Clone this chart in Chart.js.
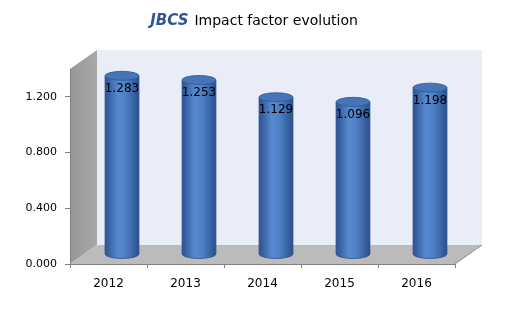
<!DOCTYPE html>
<html>
<head>
<meta charset="utf-8">
<script src="https://cdn.jsdelivr.net/npm/chart.js@4.4.1/dist/chart.umd.min.js"></script>
<style>
    html, body { margin: 0; padding: 0; background: #fff; }
</style>
</head>
<body>
<canvas id="impactChart" width="511" height="311"></canvas>
<script>
const years = ['2012', '2013', '2014', '2015', '2016'];
const impactFactor = [1.283, 1.253, 1.129, 1.096, 1.198];
const yTicks = [0, 0.4, 0.8, 1.2];
const yMax = 1.4;

// 3d depth offset of the back wall
const DX = 27;
const DY = -19;
const FONT = 'DejaVu Sans';

const walls = {
    id: 'walls',
    beforeDraw(chart) {
        const { ctx, chartArea: a } = chart;
        ctx.save();

        // back wall
        ctx.fillStyle = '#e9edf7';
        ctx.fillRect(a.left + DX, a.top + DY, a.right - a.left, a.bottom - a.top);

        // side wall
        const sg = ctx.createLinearGradient(a.left, 0, a.left + DX, 0);
        sg.addColorStop(0, '#979797');
        sg.addColorStop(1, '#a8a8a8');
        ctx.fillStyle = sg;
        ctx.beginPath();
        ctx.moveTo(a.left, a.top);
        ctx.lineTo(a.left + DX, a.top + DY);
        ctx.lineTo(a.left + DX, a.bottom + DY);
        ctx.lineTo(a.left, a.bottom);
        ctx.closePath();
        ctx.fill();

        // floor
        ctx.fillStyle = '#bbbbbb';
        ctx.beginPath();
        ctx.moveTo(a.left, a.bottom);
        ctx.lineTo(a.left + DX, a.bottom + DY);
        ctx.lineTo(a.right + DX, a.bottom + DY);
        ctx.lineTo(a.right, a.bottom);
        ctx.closePath();
        ctx.fill();
        ctx.strokeStyle = '#8c8c8c';
        ctx.lineWidth = 1;
        ctx.beginPath();
        ctx.moveTo(a.right, a.bottom);
        ctx.lineTo(a.right + DX, a.bottom + DY);
        ctx.stroke();

        ctx.restore();
    },
};

const cylinders = {
    id: 'cylinders',
    afterDatasetsDraw(chart) {
        const { ctx } = chart;
        const meta = chart.getDatasetMeta(0);
        ctx.save();
        meta.data.forEach((bar, i) => {
            const { x, y, base, width } = bar.getProps(['x', 'y', 'base', 'width'], true);
            const cx = x + DX / 2;
            const top = y + DY / 2;
            const bottom = base + DY / 2;
            const rx = width / 2;
            const ry = 4.5;
            const l = cx - rx;
            const r = cx + rx;

            const g = ctx.createLinearGradient(l, 0, r, 0);
            g.addColorStop(0, '#2c5290');
            g.addColorStop(0.38, '#5889d0');
            g.addColorStop(0.6, '#4f80c6');
            g.addColorStop(1, '#2a508d');
            ctx.fillStyle = g;
            ctx.beginPath();
            ctx.moveTo(l, top);
            ctx.lineTo(l, bottom);
            ctx.ellipse(cx, bottom, rx, ry, 0, Math.PI, 0, true);
            ctx.lineTo(r, top);
            ctx.closePath();
            ctx.fill();
            ctx.strokeStyle = '#2c5390';
            ctx.lineWidth = 0.8;
            ctx.stroke();

            ctx.beginPath();
            ctx.ellipse(cx, top, rx, ry, 0, 0, Math.PI * 2);
            ctx.fillStyle = '#4574b9';
            ctx.fill();
            ctx.strokeStyle = '#2f5894';
            ctx.stroke();

            ctx.fillStyle = '#000';
            ctx.font = '12px "' + FONT + '"';
            ctx.textAlign = 'center';
            ctx.textBaseline = 'middle';
            ctx.fillText(impactFactor[i].toFixed(3), cx, top + 13);
        });
        ctx.restore();
    },
};

const title = {
    id: 'mixedTitle',
    afterDraw(chart) {
        const { ctx } = chart;
        ctx.save();
        const boldFont = 'italic bold 15px "' + FONT + '"';
        const plainFont = '14px "' + FONT + '"';
        const part1 = 'JBCS';
        const part2 = 'Impact factor evolution';
        ctx.font = boldFont;
        const w1 = ctx.measureText(part1).width;
        ctx.font = plainFont;
        const w2 = ctx.measureText(part2).width;
        const gap = 6;
        let x = 254 - (w1 + gap + w2) / 2;
        ctx.textBaseline = 'middle';
        ctx.textAlign = 'left';
        ctx.font = boldFont;
        ctx.fillStyle = '#2f5597';
        ctx.fillText(part1, x, 21);
        ctx.font = plainFont;
        ctx.fillStyle = '#000';
        ctx.fillText(part2, x + w1 + gap, 21);
        ctx.restore();
    },
};

new Chart(document.getElementById('impactChart'), {
    type: 'bar',
    data: {
        labels: years,
        datasets: [{
            data: impactFactor,
            backgroundColor: 'rgba(0,0,0,0)',
            borderWidth: 0,
            categoryPercentage: 1,
            barPercentage: 0.44,
        }],
    },
    options: {
        responsive: false,
        animation: false,
        layout: {
            padding: { top: 69, right: 56, left: 0, bottom: 0 },
        },
        plugins: {
            legend: { display: false },
            tooltip: { enabled: false },
        },
        scales: {
            x: {
                grid: { offset: true, drawOnChartArea: false, tickLength: 4, color: '#808080' },
                border: { color: '#808080' },
                ticks: { font: { family: FONT, size: 12 }, color: '#000', padding: 9 },
                afterFit(s) { s.height = 47; },
            },
            y: {
                min: 0,
                max: yMax,
                afterBuildTicks(s) { s.ticks = yTicks.map(v => ({ value: v })); },
                grid: { drawOnChartArea: false, tickLength: 5, color: '#808080' },
                border: { color: '#808080' },
                ticks: {
                    font: { family: FONT, size: 11 },
                    color: '#000',
                    padding: 8,
                    callback: v => Number(v).toFixed(3),
                },
                afterFit(s) { s.width = 70; },
            },
        },
    },
    plugins: [walls, cylinders, title],
});
</script>
</body>
</html>
